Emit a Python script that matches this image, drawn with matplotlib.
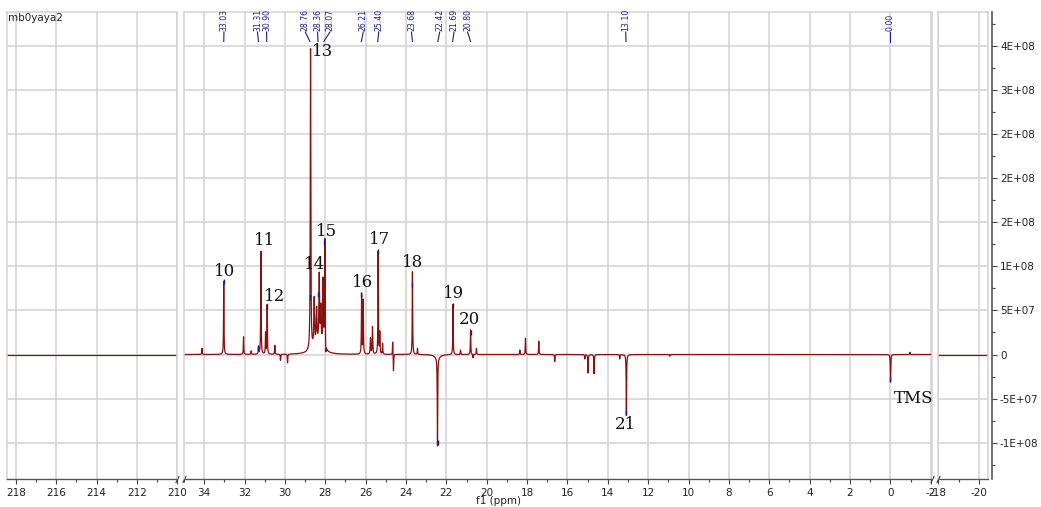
import numpy as np
import matplotlib.pyplot as plt
import matplotlib.transforms as mtransforms

plt.rcParams['axes.unicode_minus'] = False

# === peaks: position (ppm), intensity, half width (ppm) ===
peak_ppm = [34.11, 33.03, 32.05, 31.67, 31.31, 31.19, 30.96, 30.88, 30.50, 30.22, 29.87,
            28.73, 28.55, 28.43, 28.30, 28.22, 28.11, 28.02, 27.97, 28.40,
            26.20, 26.12, 25.76, 25.66, 25.38, 25.30, 25.16, 24.66, 24.62,
            23.68, 23.43, 22.44, 22.44, 21.67, 21.30, 20.80, 20.68, 20.51,
            18.36, 18.08, 17.42, 16.63, 15.14, 14.98, 14.68, 13.41, 13.08, 10.93,
            -0.01, -0.97]
peak_height = [7e6, 8.3e7, 2.0e7, 4e6, 8e6, 1.17e8, 2.4e7, 5.6e7, 1.0e7, -7e6, -1e7,
               3.42e8, 5.3e7, 3.8e7, 7.8e7, 4.2e7, 7.7e7, 1.24e8, -1.2e7, 1.2e7,
               6.8e7, 6.1e7, 1.8e7, 3.1e7, 1.17e8, 2.4e7, 1.2e7, 1.5e7, -1.95e7,
               9.4e7, 7e6, -1.0e8, -4e6, 5.7e7, 5e6, 2.8e7, -4e6, 7e6,
               5e6, 1.84e7, 1.5e7, -8e6, -5e6, -2.1e7, -2.2e7, -5e6, -6.9e7, -2e6,
               -3.1e7, 2.6e6]
peak_width = [0.012, 0.012, 0.012, 0.012, 0.012, 0.012, 0.012, 0.012, 0.012, 0.012, 0.012,
              0.015, 0.02, 0.02, 0.02, 0.02, 0.02, 0.015, 0.012, 0.25,
              0.012, 0.012, 0.015, 0.015, 0.012, 0.012, 0.012, 0.01, 0.01,
              0.012, 0.012, 0.012, 0.15, 0.012, 0.012, 0.012, 0.012, 0.012,
              0.012, 0.012, 0.012, 0.012, 0.012, 0.012, 0.012, 0.012, 0.012, 0.012,
              0.012, 0.012]

# === peak picking labels (blue) ===
pick_ppm = [33.03, 31.31, 30.90, 28.76, 28.36, 28.07, 26.21, 25.40, 23.68, 22.42, 21.69, 20.80, 13.10, 0.00]
pick_mark = [8.3e7, 8e6, 5.45e7, 6.5e7, 6.8e7, 1.27e8, 6.8e7, 1.17e8, 7.9e7, -1.0e8, 5.6e7, 2.5e7, -6.6e7, -2.8e7]
pick_text_ppm = [33.02, 31.36, 30.91, 28.99, 28.38, 27.77, 26.12, 25.35, 23.73, 22.33, 21.62, 20.95, 13.11, 0.00]

# === assignment numbers ===
num_labels = ['10', '11', '12', '13', '14', '15', '16', '17', '18', '19', '20', '21', 'TMS']
num_ppm = [32.97, 30.99, 30.50, 28.12, 28.55, 27.94, 26.15, 25.30, 23.65, 21.63, 20.84, 13.11, -1.15]
num_val = [9.4e7, 1.29e8, 6.6e7, 3.44e8, 1.02e8, 1.40e8, 8.2e7, 1.31e8, 1.05e8, 6.95e7, 4.0e7, -7.9e7, -5.0e7]

yticks = [-1e8, -5e7, 0, 5e7, 1e8, 1.5e8, 2e8, 2.5e8, 3e8, 3.5e8]
ytick_labels = ['-1E+08', '-5E+07', '0', '5E+07', '1E+08', '2E+08', '2E+08', '2E+08', '3E+08', '4E+08']

# === layout (pixels) ===
W, H = 1041, 507
TOP, BOT = 11.7, 479.3
ylim = (-1.418e8, 3.895e8)
line_col = '#8b0f0f'
blue = '#1c1c8c'
grid_col = '#d2d2d2'

fig = plt.figure(figsize=(W / 100, H / 100), dpi=100)


def panel(x0, x1, xlim):
    ax = fig.add_axes([x0 / W, 1 - BOT / H, (x1 - x0) / W, (BOT - TOP) / H])
    ax.set_xlim(*xlim)
    ax.set_ylim(*ylim)
    ax.set_yticks(yticks)
    ax.tick_params(axis='y', left=False, labelleft=False)
    ax.grid(True, which='major', color=grid_col, lw=1.1)
    ax.set_axisbelow(True)
    for s in ['top', 'left', 'right']:
        ax.spines[s].set_color(grid_col)
        ax.spines[s].set_linewidth(1.1)
    ax.spines['bottom'].set_color('#555555')
    ax.spines['bottom'].set_linewidth(1.0)
    ax.tick_params(axis='x', which='major', direction='out', length=3.5, width=0.8,
                   color='#444444', labelsize=7.5, labelcolor='#222222', pad=2.5)
    ax.tick_params(axis='x', which='minor', direction='out', length=2.2, width=0.8, color='#444444')
    return ax


ax_l = panel(7, 177, (218.45, 210.0))
ax_m = panel(184, 931.7, (35.0, -2.05))
ax_r = panel(938.3, 988.3, (-18.0, -20.45))

ax_l.set_xticks(np.arange(218, 209, -2))
ax_l.set_xticks(np.arange(217, 210, -2), minor=True)
ax_m.set_xticks(np.arange(34, -3, -2))
ax_m.set_xticks(np.arange(35, -2, -2), minor=True)
ax_r.set_xticks([-18, -20])
ax_r.set_xticks([-19], minor=True)

# flat baselines in the outer windows
ax_l.axhline(0, color=line_col, lw=0.9)
ax_r.axhline(0, color=line_col, lw=0.9)

# spectrum in the main window, sum of lorentzian lines
x = np.sort(np.concatenate([np.linspace(35.0, -2.05, 20000), peak_ppm]))[::-1]
y = np.zeros_like(x)
for p, h, w in zip(peak_ppm, peak_height, peak_width):
    y += h * w ** 2 / ((x - p) ** 2 + w ** 2)
ax_m.plot(x, y, color=line_col, lw=0.9)

# peak picking marks and labels
tr = mtransforms.blended_transform_factory(ax_m.transData, ax_m.transAxes)
frac = lambda ypx: (BOT - ypx) / (BOT - TOP)
mark_half = 2.5 / (BOT - TOP) * (ylim[1] - ylim[0])
for p, m, t in zip(pick_ppm, pick_mark, pick_text_ppm):
    ax_m.vlines(p, m - mark_half, m + mark_half, color=blue, lw=1.0, zorder=3)
    ax_m.plot([t, p], [frac(32), frac(41.5)], transform=tr, color=blue, lw=0.8, clip_on=False)
    ax_m.text(t, frac(31), f'{p:.2f}', transform=tr, rotation=90, ha='center', va='bottom',
              fontsize=5.6, color=blue, family=['Liberation Sans Narrow', 'DejaVu Sans'])

for lab, p, v in zip(num_labels, num_ppm, num_val):
    ax_m.text(p, v, lab, ha='center', va='center', fontsize=12, family='DejaVu Serif', color='#111111')

# break marks on the x axis
for ax, side in [(ax_l, 1), (ax_m, 0), (ax_m, 1), (ax_r, 0)]:
    ax.plot([side], [0], transform=ax.transAxes, marker=[(-0.5, -1), (0.5, 1)], markersize=5,
            mec='#333333', mew=0.8, linestyle='none', clip_on=False)

# intensity axis on the right
ax_y = fig.add_axes([991.3 / W, 1 - BOT / H, 1 / W, (BOT - TOP) / H])
ax_y.set_ylim(*ylim)
ax_y.patch.set_visible(False)
for s in ['top', 'left', 'bottom']:
    ax_y.spines[s].set_visible(False)
ax_y.spines['right'].set_color('#555555')
ax_y.spines['right'].set_linewidth(1.2)
ax_y.set_xticks([])
ax_y.yaxis.tick_right()
ax_y.set_yticks(yticks, ytick_labels)
ax_y.set_yticks(np.arange(-1.25e8, 3.9e8, 5e7), minor=True)
ax_y.tick_params(axis='y', which='major', direction='out', length=3.5, width=0.8, color='#444444',
                 labelsize=7.5, labelcolor='#222222', pad=2)
ax_y.tick_params(axis='y', which='minor', direction='out', length=2.2, width=0.8, color='#444444')

fig.text(8 / W, 1 - 17.7 / H, 'mb0yaya2', ha='left', va='center', fontsize=7.5, color='#222222')
fig.text(498 / W, 1 - 501 / H, 'f1 (ppm)', ha='center', va='center', fontsize=7.5, color='#222222')

fig.savefig('out.png', dpi=100)
